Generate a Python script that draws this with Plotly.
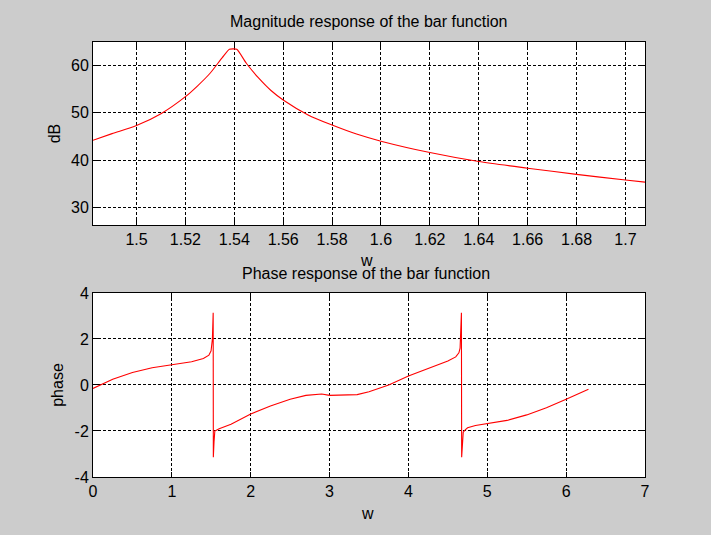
import plotly.graph_objects as go

# ---- data ----
w_mag = [1.4822, 1.49, 1.50, 1.51, 1.52, 1.525, 1.53, 1.535, 1.538, 1.5395, 1.541,
         1.545, 1.55, 1.555, 1.56, 1.57, 1.58, 1.59, 1.60, 1.62, 1.64, 1.66, 1.68, 1.70, 1.708]
mag_db = [44.2, 45.6, 47.3, 49.8, 53.4, 55.7, 58.3, 61.6, 63.4, 63.5, 63.4,
          60.4, 57.3, 54.7, 52.7, 49.6, 47.4, 45.5, 44.0, 41.6, 39.7, 38.3, 37.0, 35.8, 35.35]

w_ph = [0.0, 0.1, 0.25, 0.5, 0.75, 1.0, 1.25, 1.4, 1.47, 1.497, 1.514, 1.524, 1.526,
        1.535, 1.545, 1.57, 1.6, 1.75, 2.0, 2.25, 2.5, 2.7, 2.85, 2.9, 3.0, 3.2, 3.35,
        3.5, 3.75, 4.0, 4.25, 4.5, 4.6, 4.64, 4.655, 4.662, 4.672, 4.675, 4.685, 4.695,
        4.72, 4.75, 4.85, 5.0, 5.25, 5.5, 5.75, 6.0, 6.283]
phase = [-0.15, 0.0, 0.25, 0.54, 0.75, 0.88, 1.01, 1.15, 1.3, 1.48, 2.0, 3.14, -3.14,
         -2.45, -2.0, -1.95, -1.9, -1.71, -1.26, -0.91, -0.62, -0.45, -0.41, -0.39, -0.45, -0.45, -0.42,
         -0.29, 0.0, 0.39, 0.72, 1.04, 1.22, 1.4, 1.6, 2.35, 3.14, -3.14, -2.3, -2.05,
         -1.95, -1.86, -1.76, -1.68, -1.54, -1.30, -0.99, -0.62, -0.19]

mag_xticks = [1.5, 1.52, 1.54, 1.56, 1.58, 1.6, 1.62, 1.64, 1.66, 1.68, 1.7]
mag_xtext = ["1.5", "1.52", "1.54", "1.56", "1.58", "1.6", "1.62", "1.64", "1.66", "1.68", "1.7"]
mag_yticks = [30, 40, 50, 60]
mag_ytext = ["30", "40", "50", "60"]
ph_xticks = [0, 1, 2, 3, 4, 5, 6, 7]
ph_xtext = ["0", "1", "2", "3", "4", "5", "6", "7"]
ph_yticks = [-4, -2, 0, 2, 4]
ph_ytext = ["-4", "-2", "0", "2", "4"]

FONT = "Liberation Sans, Arial, Helvetica, sans-serif"
TICKFONT = dict(family=FONT, size=16, color="black")

fig = go.Figure()
fig.add_trace(go.Scatter(x=w_mag, y=mag_db, mode="lines", line=dict(color="#ff0000", width=1.1, shape="spline", smoothing=0.7),
                         xaxis="x", yaxis="y", showlegend=False, hoverinfo="skip"))
fig.add_trace(go.Scatter(x=w_ph, y=phase, mode="lines", line=dict(color="#ff0000", width=1.1),
                         xaxis="x2", yaxis="y2", showlegend=False, hoverinfo="skip"))

axis_common = dict(showline=True, linecolor="black", linewidth=1, mirror="ticks",
                   ticks="inside", ticklen=5, tickcolor="black", tickwidth=1,
                   showgrid=True, gridcolor="black", gridwidth=1, griddash="3px,2px",
                   zeroline=False, tickfont=TICKFONT, fixedrange=True)

fig.update_layout(
    width=711, height=535,
    paper_bgcolor="#cccccc", plot_bgcolor="white",
    margin=dict(l=93, r=66, t=42, b=58),
    xaxis=dict(axis_common, domain=[0, 1], range=[1.4822, 1.708], tickvals=mag_xticks, ticktext=mag_xtext, anchor="y"),
    yaxis=dict(axis_common, domain=[0.5793, 1.0], range=[26.3, 64.95], tickvals=mag_yticks, ticktext=mag_ytext, anchor="x"),
    xaxis2=dict(axis_common, domain=[0, 1], range=[0, 7], tickvals=ph_xticks, ticktext=ph_xtext, anchor="y2"),
    yaxis2=dict(axis_common, domain=[0, 0.423], range=[-4, 4], tickvals=ph_yticks, ticktext=ph_ytext, anchor="x2"),
)

def ann(text, x, y, size=16, angle=0):
    fig.add_annotation(text=text, x=x, y=y, xref="paper", yref="paper", showarrow=False,
                       xanchor="center", yanchor="middle", textangle=angle,
                       font=dict(family=FONT, size=size, color="black"))

ann("Magnitude response of the bar function", 0.5, 1.0476, size=16)
ann("Phase response of the bar function", 0.495, 0.4678, size=16)
ann("w", 0.4958, 0.4977)
ann("w", 0.497, -0.0839)
ann("dB", -0.0707, 0.790, angle=-90)
ann("phase", -0.0634, 0.212, angle=-90)

fig.write_html("out.html", config={"displayModeBar": False},
               post_script="document.body.style.margin='0';document.body.style.background='#cccccc';")
